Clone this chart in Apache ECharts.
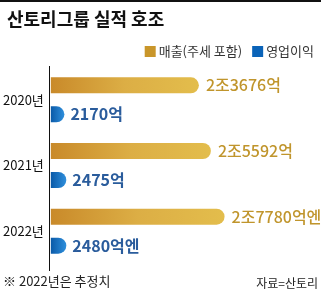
<!DOCTYPE html>
<html><head><meta charset="utf-8">
<script src="https://cdn.jsdelivr.net/npm/echarts@6/dist/echarts.min.js"></script>
<style>html,body{margin:0;padding:0;background:#fff}#c{width:321px;height:296px}</style>
</head><body><div id="c"></div>
<script>
const categories = ['2020년', '2021년', '2022년'];
const salesValues = [23676, 25592, 27780];
const profitValues = [2170, 2475, 2480];
const salesLabels = ['2조3676억', '2조5592억', '2조7780억엔'];
const profitLabels = ['2170억', '2475억', '2480억엔'];
const seriesNames = ['매출(주세 포함)', '영업이익'];

const FONT = '"Noto Sans CJK KR", sans-serif';
const gold = {type:'linear',x:0,y:0,x2:1,y2:0,colorStops:[{offset:0,color:'#c98a2a'},{offset:0.5,color:'#dcae45'},{offset:1,color:'#e3bd4c'}]};
const blue = {type:'linear',x:0,y:0,x2:1,y2:0,colorStops:[{offset:0,color:'#0a5aa8'},{offset:1,color:'#2f8fdc'}]};

const chart = echarts.init(document.getElementById('c'), null, {renderer:'canvas'});
chart.setOption({
  animation:false,
  textStyle:{fontFamily:FONT},
  title:{text:'산토리그룹 실적 호조',left:2,top:5,textStyle:{fontSize:18,fontWeight:'bold',color:'#111',fontFamily:FONT}},
  legend:{right:2,top:40,itemWidth:11,itemHeight:11,itemGap:10,icon:'rect',
    textStyle:{fontSize:13,color:'#333',fontFamily:FONT,padding:[0,0,0,-2]},
    data:[{name:seriesNames[0],itemStyle:{color:'#c9962a'}},{name:seriesNames[1],itemStyle:{color:'#0a63b8'}}]},
  grid:{left:49,top:67,width:252,height:197,containLabel:false},
  xAxis:{type:'value',min:0,max:40000,show:false},
  yAxis:{type:'category',inverse:true,data:categories,
    axisLine:{show:false},axisTick:{show:false},
    axisLabel:{fontSize:13,color:'#111',margin:7,fontFamily:FONT}},
  series:[
    {name:seriesNames[0],type:'bar',data:salesValues,barWidth:16,barGap:'81%',
     itemStyle:{color:gold,borderRadius:[0,8,8,0]},
     label:{show:true,position:'right',distance:7,fontSize:16,fontWeight:500,color:'#c0952c',fontFamily:FONT,
       formatter:p=>salesLabels[p.dataIndex]}},
    {name:seriesNames[1],type:'bar',data:profitValues,barWidth:16,
     itemStyle:{color:blue,borderRadius:[0,8,8,0]},
     label:{show:true,position:'right',distance:6,fontSize:16,fontWeight:'bold',color:'#2a5c9c',fontFamily:FONT,
       formatter:p=>profitLabels[p.dataIndex]}}
  ],
  graphic:[
    {type:'rect',shape:{x:0,y:0,width:321,height:2},style:{fill:'#111'}},
    {type:'line',shape:{x1:49.5,y1:66,x2:49.5,y2:271},style:{stroke:'#111',lineWidth:1}},
    {type:'text',left:3,top:275,style:{text:'※ 2022년은 추정치',fontSize:13,fill:'#222',fontFamily:FONT}},
    {type:'text',right:3,top:277,style:{text:'자료=산토리',fontSize:12,fill:'#222',fontFamily:FONT}}
  ]
});
</script></body></html>
